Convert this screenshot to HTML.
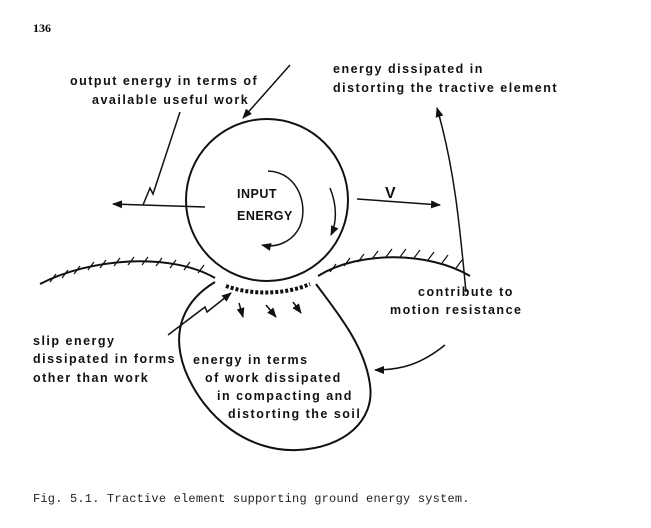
<!DOCTYPE html>
<html><head><style>
body{margin:0;background:#fff;}
svg{display:block}
.t{font-family:"Liberation Sans",sans-serif;font-weight:bold;font-size:12.5px;letter-spacing:1.5px;fill:#111}
</style></head><body>
<svg width="651" height="528" viewBox="0 0 651 528" xmlns="http://www.w3.org/2000/svg">
<defs><marker id="a" markerWidth="10" markerHeight="8" refX="9" refY="4" orient="auto" markerUnits="userSpaceOnUse"><path d="M0,0 L10,4 L0,8 z" fill="#111"/></marker></defs>
<g fill="none" stroke="#111" stroke-width="2">
<circle cx="267" cy="200" r="81"/>
<path d="M215,282 C185,300 170,330 185,370 C205,420 250,452 297,450 C345,448 375,420 370,385 C365,345 335,310 316,284"/>
<path d="M40,284 C90,258 170,252 215,278"/>
<path d="M318,276 C360,250 430,252 470,276"/>
<path d="M226,286 C250,295 285,295 310,284" stroke-width="4" stroke-dasharray="3 2"/>
</g>
<g stroke="#111" stroke-width="1.2">
<path d="M50,282 l6,-8 M62,278 l6,-8 M74,274 l6,-8 M88,270 l6,-8 M100,268 l6,-8 M114,266 l6,-8 M128,265 l6,-8 M142,265 l6,-8 M156,266 l6,-8 M170,268 l6,-8 M184,270 l6,-8 M198,273 l6,-8"/>
<path d="M330,272 l6,-8 M344,266 l6,-8 M358,262 l6,-8 M372,259 l6,-8 M386,257 l6,-8 M400,257 l6,-8 M414,258 l6,-8 M428,260 l6,-8 M442,263 l6,-8 M456,268 l6,-8"/>
</g>
<g fill="none" stroke="#111" stroke-width="1.5">
<path d="M205,207 L113,204" marker-end="url(#a)"/>
<path d="M357,199 L440,205" marker-end="url(#a)"/>
<path d="M143,205 L150,188 L153,194 L180,112"/>
<path d="M290,65 L243,118" marker-end="url(#a)"/>
<path d="M466,292 C460,230 455,170 437,108" marker-end="url(#a)"/>
<path d="M445,345 C420,365 400,370 375,370" marker-end="url(#a)"/>
<path d="M168,335 L205,307 L207,312 L231,293" marker-end="url(#a)"/>
<path d="M268,171 C300,172 310,210 298,230 C290,243 275,248 262,245" marker-end="url(#a)"/>
<path d="M330,188 C337,205 337,222 331,235" marker-end="url(#a)"/>
<path d="M239,303 L243,317" marker-end="url(#a)"/>
<path d="M266,305 L276,317" marker-end="url(#a)"/>
<path d="M293,302 L301,313" marker-end="url(#a)"/>
</g>
<text x="33" y="32" style="font-family:'Liberation Serif',serif;font-weight:bold;font-size:12px">136</text>
<text class="t" x="70" y="85">output energy in terms of</text>
<text class="t" x="92" y="104">available useful work</text>
<text class="t" x="333" y="73">energy dissipated in</text>
<text class="t" x="333" y="92">distorting the tractive element</text>
<text class="t" x="237" y="198" style="letter-spacing:0.5px">INPUT</text>
<text class="t" x="237" y="220" style="letter-spacing:0.5px">ENERGY</text>
<text class="t" x="385" y="198" style="font-size:16px">V</text>
<text class="t" x="418" y="296">contribute to</text>
<text class="t" x="390" y="314">motion resistance</text>
<text class="t" x="33" y="345">slip energy</text>
<text class="t" x="33" y="363">dissipated in forms</text>
<text class="t" x="33" y="382">other than work</text>
<text class="t" x="193" y="364">energy in terms</text>
<text class="t" x="205" y="382">of work dissipated</text>
<text class="t" x="217" y="400">in compacting and</text>
<text class="t" x="228" y="418">distorting the soil</text>
<text x="33" y="502" style="font-family:'Liberation Mono',monospace;font-size:12px;letter-spacing:0.2px;fill:#222">Fig. 5.1. Tractive element supporting ground energy system.</text>
</svg>
</body></html>
